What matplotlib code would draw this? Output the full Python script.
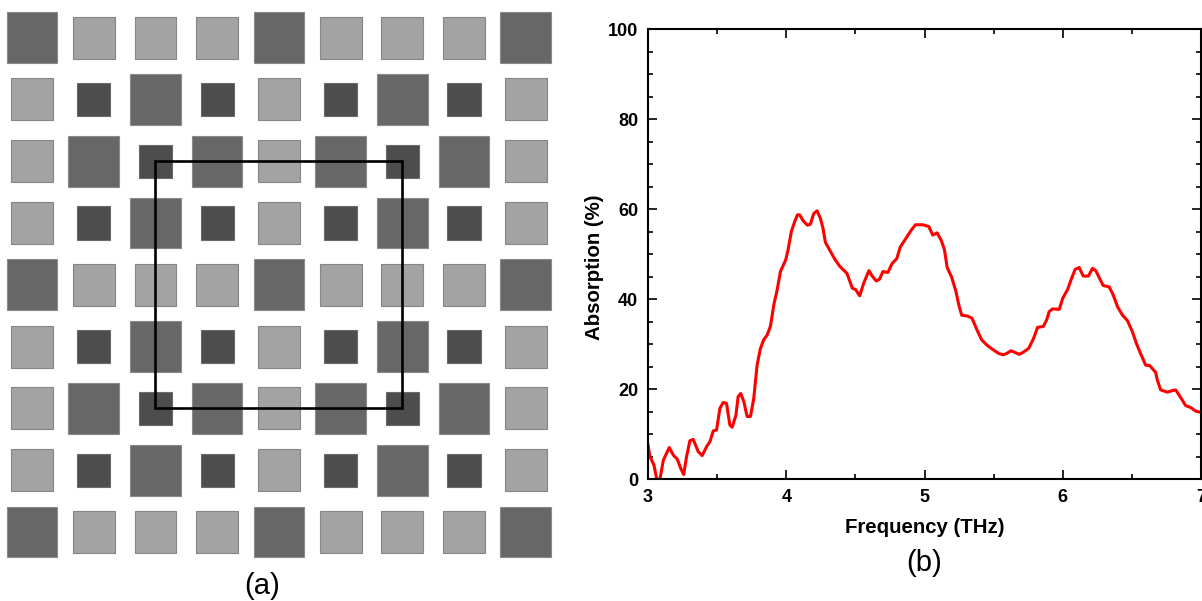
import numpy as np
import matplotlib
matplotlib.use('Agg')
import matplotlib.pyplot as plt
from matplotlib.patches import Rectangle

plt.rcParams['font.family'] = ['Liberation Sans', 'DejaVu Sans']

# Panel (a) layout, 0 = large, 1 = medium, 2 = small
row_a = [0, 1, 1, 1, 0, 1, 1, 1, 0]
row_b = [1, 2, 0, 2, 1, 2, 0, 2, 1]
row_c = [1, 0, 2, 0, 1, 0, 2, 0, 1]
grid = [row_a, row_b, row_c, row_b, row_a, row_b, row_c, row_b, row_a]
sizes = [0.82, 0.68, 0.54]
fills = ['#676767', '#a3a3a3', '#4d4d4d']
edges = ['#8a8a8a', '#858585', '#6a6a6a']

# Panel (b) curve
freq = [3.0, 3.014, 3.043, 3.063, 3.087, 3.111, 3.154, 3.183, 3.212, 3.236, 3.258, 3.279,
        3.303, 3.327, 3.363, 3.392, 3.424, 3.448, 3.472, 3.496, 3.52, 3.544, 3.568, 3.592,
        3.609, 3.636, 3.652, 3.671, 3.693, 3.717, 3.741, 3.765, 3.789, 3.813, 3.838, 3.862,
        3.886, 3.91, 3.934, 3.958, 3.996, 4.013, 4.037, 4.061, 4.081, 4.097, 4.122, 4.153,
        4.174, 4.199, 4.223, 4.247, 4.266, 4.283, 4.314, 4.35, 4.386, 4.439, 4.478, 4.502,
        4.531, 4.56, 4.598, 4.622, 4.651, 4.675, 4.699, 4.735, 4.766, 4.8, 4.824, 4.868,
        4.904, 4.935, 4.988, 5.031, 5.06, 5.091, 5.12, 5.144, 5.164, 5.197, 5.228, 5.248,
        5.269, 5.313, 5.344, 5.38, 5.414, 5.45, 5.493, 5.537, 5.57, 5.594, 5.626, 5.657,
        5.686, 5.715, 5.753, 5.787, 5.818, 5.859, 5.883, 5.902, 5.926, 5.975, 5.999, 6.035,
        6.064, 6.09, 6.119, 6.148, 6.186, 6.215, 6.239, 6.263, 6.292, 6.336, 6.365, 6.396,
        6.432, 6.468, 6.504, 6.533, 6.564, 6.6, 6.629, 6.672, 6.684, 6.708, 6.757, 6.788,
        6.817, 6.853, 6.889, 6.925, 6.961, 7.0]
absorption = [7.6, 5.0, 3.1, 0.0, 0.0, 4.2, 7.0, 5.3, 4.4, 2.4, 1.0, 5.0,
              8.5, 8.8, 6.1, 5.2, 7.2, 8.3, 10.7, 10.9, 15.7, 17.0, 16.8, 12.0,
              11.5, 14.2, 18.3, 19.0, 17.2, 13.9, 13.9, 17.9, 25.3, 29.0, 31.0, 32.0,
              34.0, 38.7, 42.0, 46.1, 48.7, 50.9, 55.0, 57.2, 58.7, 58.7, 57.4, 56.4,
              56.6, 59.0, 59.6, 57.9, 55.7, 52.6, 50.9, 48.9, 47.3, 45.7, 42.4, 42.1,
              40.7, 43.5, 46.3, 45.1, 44.0, 44.4, 46.1, 45.9, 47.9, 49.0, 51.5, 53.6,
              55.3, 56.5, 56.5, 56.1, 54.2, 54.7, 53.1, 51.0, 47.0, 44.8, 41.6, 38.7,
              36.4, 36.2, 35.7, 33.1, 30.9, 29.8, 28.8, 27.9, 27.6, 27.9, 28.5, 28.1,
              27.7, 28.2, 29.0, 31.1, 33.7, 33.9, 35.3, 37.2, 37.8, 37.7, 40.1, 42.1,
              44.6, 46.6, 47.0, 45.1, 45.1, 46.8, 46.3, 44.8, 43.0, 42.7, 40.9, 38.3,
              36.4, 35.2, 32.7, 30.1, 27.8, 25.3, 25.2, 23.7, 22.0, 19.8, 19.3, 19.6,
              19.8, 18.1, 16.3, 15.9, 15.1, 14.8]

W, H = 1202, 601
fig = plt.figure(figsize=(W / 100, H / 100), dpi=100)

# panel (a), one data unit is one cell of the grid
ax_a = fig.add_axes([0, 0, 555 / W, 1])
ax_a.set_xlim(-0.52, 8.475)
ax_a.set_ylim(9.115, -0.608)
ax_a.axis('off')
for r, row in enumerate(grid):
    for c, kind in enumerate(row):
        s = sizes[kind]
        ax_a.add_patch(Rectangle((c - s / 2, r - s / 2), s, s, facecolor=fills[kind],
                                 edgecolor=edges[kind], linewidth=0.8))
ax_a.add_patch(Rectangle((2, 2), 4, 4, fill=False, edgecolor='black', linewidth=1.9, zorder=5))
ax_a.text(3.73, 8.87, '(a)', fontsize=21, ha='center', va='center')

# panel (b)
ax_b = fig.add_axes([648 / W, 1 - 479 / H, 553 / W, 450 / H])
ax_b.plot(freq, absorption, color='red', linewidth=2.2)
ax_b.set_xlim(3, 7)
ax_b.set_ylim(0, 100)
ax_b.set_xticks([3, 4, 5, 6, 7])
ax_b.set_xticks([3.5, 4.5, 5.5, 6.5], minor=True)
ax_b.set_yticks([0, 20, 40, 60, 80, 100])
ax_b.set_yticks(np.arange(5, 100, 5), minor=True)
ax_b.tick_params(which='major', direction='in', length=6.5, width=1.2, top=True, right=True,
                 labelsize=13, pad=7)
ax_b.tick_params(which='minor', direction='in', length=3.6, width=1.2, top=True, right=True)
for lab in ax_b.get_xticklabels() + ax_b.get_yticklabels():
    lab.set_fontweight('bold')
for sp in ax_b.spines.values():
    sp.set_linewidth(1.5)
ax_b.set_xlabel('Frequency (THz)', fontsize=14.7, fontweight='bold', labelpad=8.5)
ax_b.set_ylabel('Absorption (%)', fontsize=14.7, fontweight='bold', labelpad=3, y=0.471)
ax_b.text(5, -18.7, '(b)', fontsize=21, ha='center', va='center')

fig.savefig('out.png', dpi=100)
